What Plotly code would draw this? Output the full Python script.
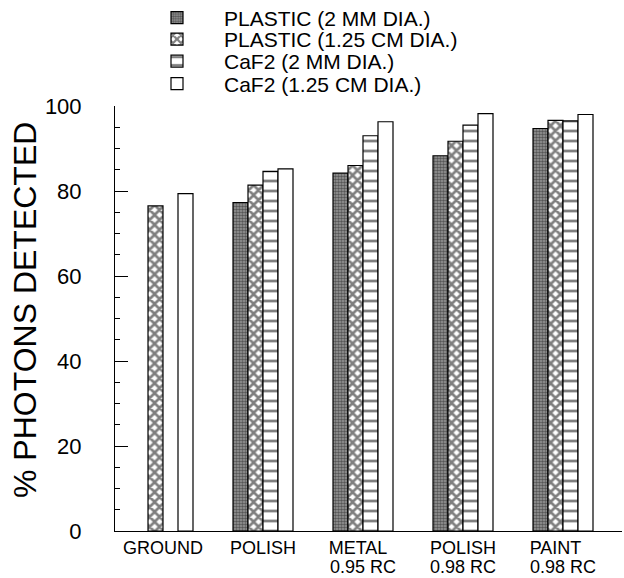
import plotly.graph_objects as go

# ---- data ----
groups = ["GROUND", "POLISH", "METAL", "POLISH2", "PAINT"]
group_labels_line1 = ["GROUND", "POLISH", "METAL\u00a0\u00a0", "POLISH", "PAINT\u00a0\u00a0\u00a0"]
group_labels_line2 = ["", "", "0.95 RC", "0.98 RC", "0.98 RC"]
series_names = ["PLASTIC (2 MM DIA.)", "PLASTIC (1.25 CM DIA.)", "CaF2 (2 MM DIA.)", "CaF2 (1.25 CM DIA.)"]
plastic_2mm = [None, 77.3, 84.2, 88.3, 94.7]
plastic_125cm = [76.5, 81.4, 86.0, 91.7, 96.6]
caf2_2mm = [None, 84.6, 93.0, 95.5, 96.5]
caf2_125cm = [79.4, 85.2, 96.3, 98.2, 98.0]
y_ticks = [0, 20, 40, 60, 80, 100]
y_title = "% PHOTONS DETECTED"

FONT = "Liberation Sans, Arial, Helvetica, sans-serif"
W, H = 624, 578
X_RANGE = [-0.48, 4.59]
xpos = list(range(len(groups)))

styles = [
    dict(color="#7a7a7a", pattern=dict(shape=".", fgcolor="#111111", bgcolor="#9a9a9a", size=3, solidity=0.55)),
    dict(color="white", pattern=dict(shape="x", fgcolor="black", bgcolor="white", size=7, solidity=0.62)),
    dict(color="white", pattern=dict(shape="-", fgcolor="black", bgcolor="white", size=10, solidity=0.28)),
    dict(color="white", pattern=dict(shape="", fgcolor="black", bgcolor="white")),
]
legend_ids = ["legend", "legend2", "legend3", "legend4"]
legend_rows_px = [18, 39.5, 61.5, 84]  # row centres of the legend entries

fig = go.Figure()
for name, vals, st, lid in zip(series_names, [plastic_2mm, plastic_125cm, caf2_2mm, caf2_125cm], styles, legend_ids):
    fig.add_trace(go.Bar(
        x=xpos, y=vals, name=name, legend=lid, showlegend=True,
        marker=dict(color=st["color"], pattern=st["pattern"], line=dict(color="black", width=1.2)),
    ))

legend_common = dict(
    xref="container", yref="container", xanchor="left", yanchor="middle",
    font=dict(size=21, family=FONT, color="black"), bgcolor="rgba(0,0,0,0)",
    borderwidth=0, itemwidth=84,
)
leg_layout = {}
for lid, ypx in zip(legend_ids, legend_rows_px):
    leg_layout[lid] = dict(legend_common, x=130 / W, y=1 - ypx / H)

fig.update_layout(
    width=W, height=H, showlegend=True,
    barmode="group", bargap=0.4, bargroupgap=0,
    plot_bgcolor="white", paper_bgcolor="white",
    margin=dict(l=115, r=2, t=106, b=47, autoexpand=False),
    font=dict(family=FONT, color="black"),
    **leg_layout,
)
fig.update_xaxes(
    type="linear", range=X_RANGE,
    tickvals=xpos, ticktext=group_labels_line1,
    showline=True, linecolor="black", linewidth=1, ticks="",
    tickfont=dict(size=18, family=FONT, color="black"),
    showgrid=False, zeroline=False, automargin=False,
)
for xv, txt in zip(xpos, group_labels_line2):
    if txt:
        fig.add_annotation(
            text=txt, x=xv, xref="x", y=0, yref="paper", yshift=-36,
            xanchor="center", yanchor="middle", showarrow=False,
            font=dict(size=18, family=FONT, color="black"),
        )
fig.update_yaxes(
    range=[0, 100], tickvals=y_ticks,
    showline=True, linecolor="black", linewidth=1,
    ticks="inside", ticklen=13, tickcolor="black", tickwidth=1,
    minor=dict(dtick=5, ticks="inside", ticklen=5, tickcolor="black", tickwidth=1, showgrid=False),
    tickfont=dict(size=22, family=FONT, color="black"),
    ticklabelstandoff=28,
    showgrid=False, zeroline=False, automargin=False,
)
fig.add_annotation(
    text=y_title, textangle=-90, showarrow=False,
    xref="paper", yref="paper", x=(25 - 115) / 507, y=0.52,
    xanchor="center", yanchor="middle",
    font=dict(size=32, family=FONT, color="black"),
)

fig.write_html("out.html", config={"displayModeBar": False},
               post_script="document.body.style.margin='0';")
